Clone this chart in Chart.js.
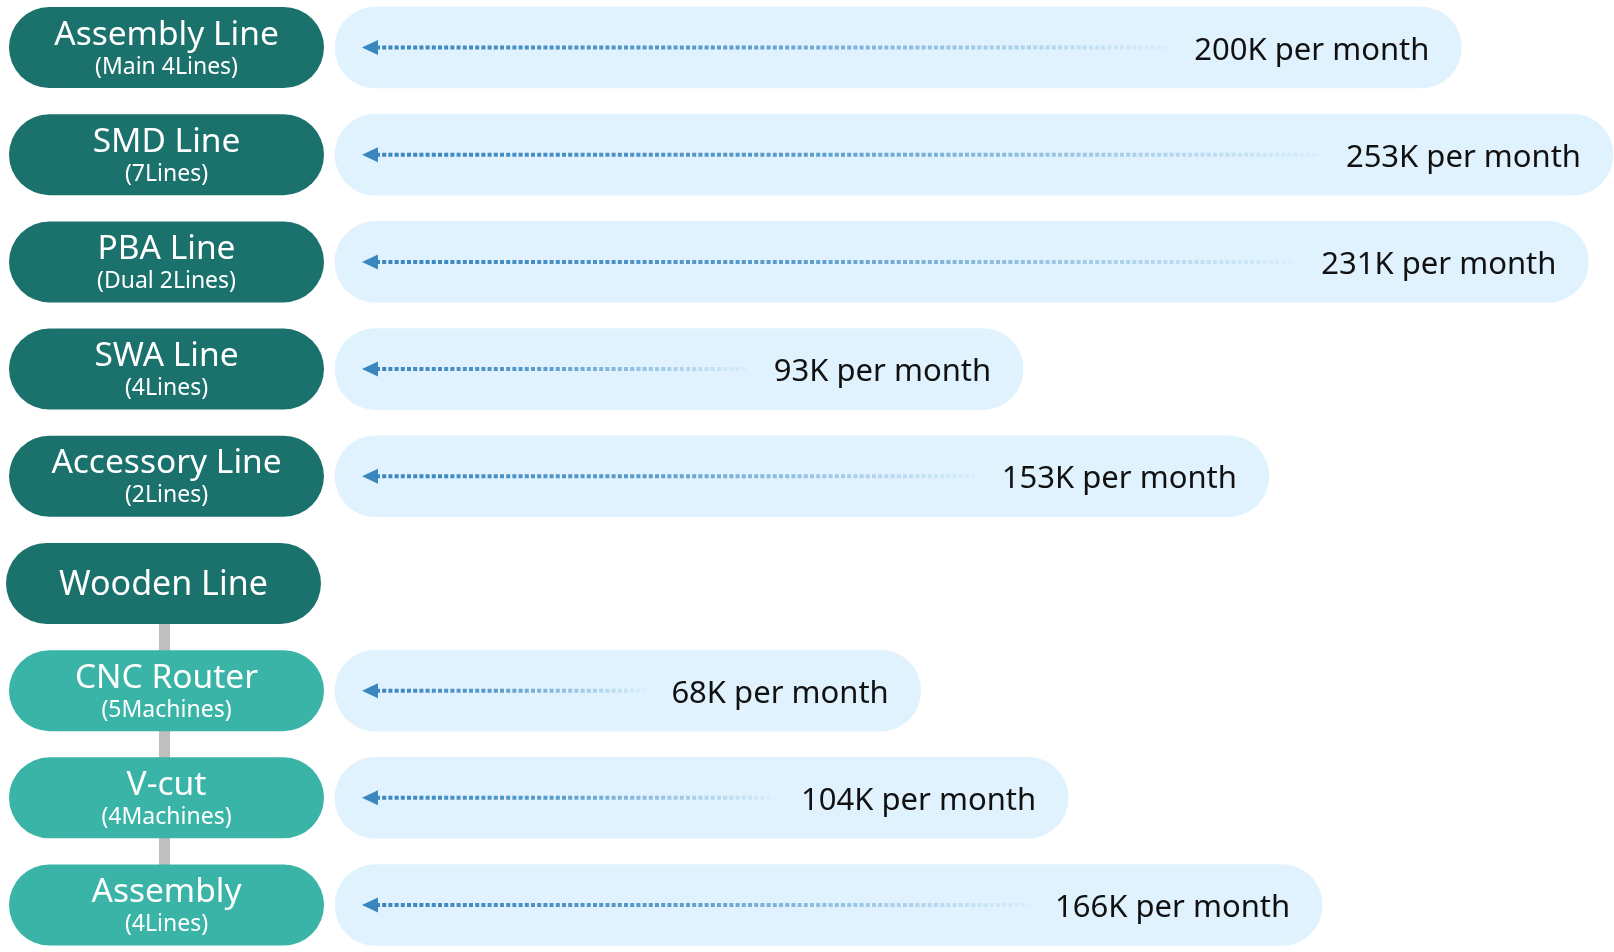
<!DOCTYPE html>
<html lang="en">
  <head>
    <meta charset="UTF-8" />
    <title>Monthly Capacity by Line</title>
    <style>
      body {
        margin: 0;
        background-color: #ffffff;
      }
      .chart-container {
        width: 1614px;
        height: 952px;
        position: relative;
      }
    </style>
  </head>
  <body>
    <div class="chart-container">
      <canvas id="capacityChart"></canvas>
    </div>
    <script src="https://cdn.jsdelivr.net/npm/chart.js"></script>
    <script>
      const lineNames = [
        "Assembly Line",
        "SMD Line",
        "PBA Line",
        "SWA Line",
        "Accessory Line",
        "Wooden Line",
        "CNC Router",
        "V-cut",
        "Assembly",
      ];
      const lineDetails = [
        "(Main 4Lines)",
        "(7Lines)",
        "(Dual 2Lines)",
        "(4Lines)",
        "(2Lines)",
        "",
        "(5Machines)",
        "(4Machines)",
        "(4Lines)",
      ];
      // thousand units per month, Wooden Line is only a group header
      const monthlyCapacityK = [200, 253, 231, 93, 153, null, 68, 104, 166];
      const isSubProcess = [false, false, false, false, false, false, true, true, true];

      const X_MIN = -75;
      const X_MAX = 237;
      const DARK_TEAL = "#1b716b";
      const LIGHT_TEAL = "#39b4a7";
      const ARROW_BLUE = "58, 134, 191";

      function pill(ctx, x, y, w, h) {
        ctx.beginPath();
        ctx.roundRect(x, y, w, h, h / 2);
        ctx.fill();
      }

      // floating bars may come back with start/end swapped
      function barEnds(bar) {
        return { left: Math.min(bar.x, bar.base), right: Math.max(bar.x, bar.base) };
      }

      // keep the widest bar inside the canvas
      const clampBars = {
        id: "clampBars",
        beforeDatasetsDraw(chart) {
          const limit = chart.chartArea.right;
          chart.getDatasetMeta(0).data.forEach((bar) => {
            if (bar.x > limit) bar.x = limit;
            if (bar.base > limit) bar.base = limit;
          });
        },
      };

      const lineLabels = {
        id: "lineLabels",
        afterDatasetsDraw(chart) {
          const ctx = chart.ctx;
          const yScale = chart.scales.y;
          const pillH = 81;
          ctx.save();

          // connector between Wooden Line and its processes
          const first = isSubProcess.indexOf(true) - 1;
          const last = isSubProcess.lastIndexOf(true);
          ctx.fillStyle = "#bfbfbf";
          ctx.fillRect(
            159,
            yScale.getPixelForTick(first),
            11,
            yScale.getPixelForTick(last) - yScale.getPixelForTick(first)
          );

          lineNames.forEach((name, i) => {
            const cy = yScale.getPixelForTick(i);
            const isHeader = monthlyCapacityK[i] == null;
            const left = isHeader ? 6 : 9;
            ctx.fillStyle = isSubProcess[i] ? LIGHT_TEAL : DARK_TEAL;
            pill(ctx, left, cy - pillH / 2, 315, pillH);

            ctx.fillStyle = "#ffffff";
            ctx.textAlign = "center";
            ctx.textBaseline = "alphabetic";
            const cx = left + 157.5;
            if (lineDetails[i]) {
              ctx.font = '33.5px "Noto Sans"';
              ctx.fillText(name, cx, cy - 3);
              ctx.font = '23px "Noto Sans"';
              ctx.fillText(lineDetails[i], cx, cy + 26);
            } else {
              ctx.font = '34px "Noto Sans"';
              ctx.fillText(name, cx, cy + 12);
            }
          });
          ctx.restore();
        },
      };

      const capacityArrows = {
        id: "capacityArrows",
        afterDatasetsDraw(chart) {
          const ctx = chart.ctx;
          ctx.save();
          chart.getDatasetMeta(0).data.forEach((bar, i) => {
            if (monthlyCapacityK[i] == null) return;
            const { left, right } = barEnds(bar);
            const y = bar.y;
            const text = monthlyCapacityK[i] + "K per month";
            ctx.font = '31px "Noto Sans"';
            ctx.fillStyle = "#111111";
            ctx.textAlign = "right";
            ctx.textBaseline = "alphabetic";
            const textRight = right - 32;
            const textLeft = textRight - ctx.measureText(text).width;
            ctx.fillText(text, textRight, y + 12);

            const tipX = left + 27;
            const lineStart = tipX + 14;
            const lineEnd = textLeft - 26;
            const grad = ctx.createLinearGradient(lineStart, 0, lineEnd, 0);
            grad.addColorStop(0, `rgba(${ARROW_BLUE}, 1)`);
            grad.addColorStop(0.45, `rgba(${ARROW_BLUE}, 0.8)`);
            grad.addColorStop(1, `rgba(${ARROW_BLUE}, 0.04)`);
            ctx.strokeStyle = grad;
            ctx.lineWidth = 4;
            ctx.setLineDash([4, 2.2]);
            ctx.beginPath();
            ctx.moveTo(lineStart, y);
            ctx.lineTo(lineEnd, y);
            ctx.stroke();
            ctx.setLineDash([]);

            ctx.fillStyle = `rgb(${ARROW_BLUE})`;
            ctx.beginPath();
            ctx.moveTo(tipX, y);
            ctx.lineTo(tipX + 16, y - 7.5);
            ctx.lineTo(tipX + 16, y + 7.5);
            ctx.closePath();
            ctx.fill();
          });
          ctx.restore();
        },
      };

      const capacityChart = new Chart(document.getElementById("capacityChart"), {
        type: "bar",
        data: {
          labels: lineNames,
          datasets: [
            {
              label: "Monthly capacity (K)",
              data: monthlyCapacityK.map((v) => (v == null ? null : [X_MIN, v])),
              backgroundColor: "#dff2fd",
              borderRadius: 41,
              borderSkipped: false,
              barThickness: 81,
              clip: false,
            },
          ],
        },
        options: {
          indexAxis: "y",
          responsive: true,
          maintainAspectRatio: false,
          animation: false,
          layout: {
            padding: { left: 335, right: 1, top: 47.5, bottom: 47 },
          },
          scales: {
            x: { display: false, min: X_MIN, max: X_MAX },
            y: { display: false, offset: false, grid: { display: false } },
          },
          plugins: {
            legend: { display: false },
            tooltip: { enabled: false },
          },
        },
        plugins: [clampBars, lineLabels, capacityArrows],
      });
    </script>
  </body>
</html>
